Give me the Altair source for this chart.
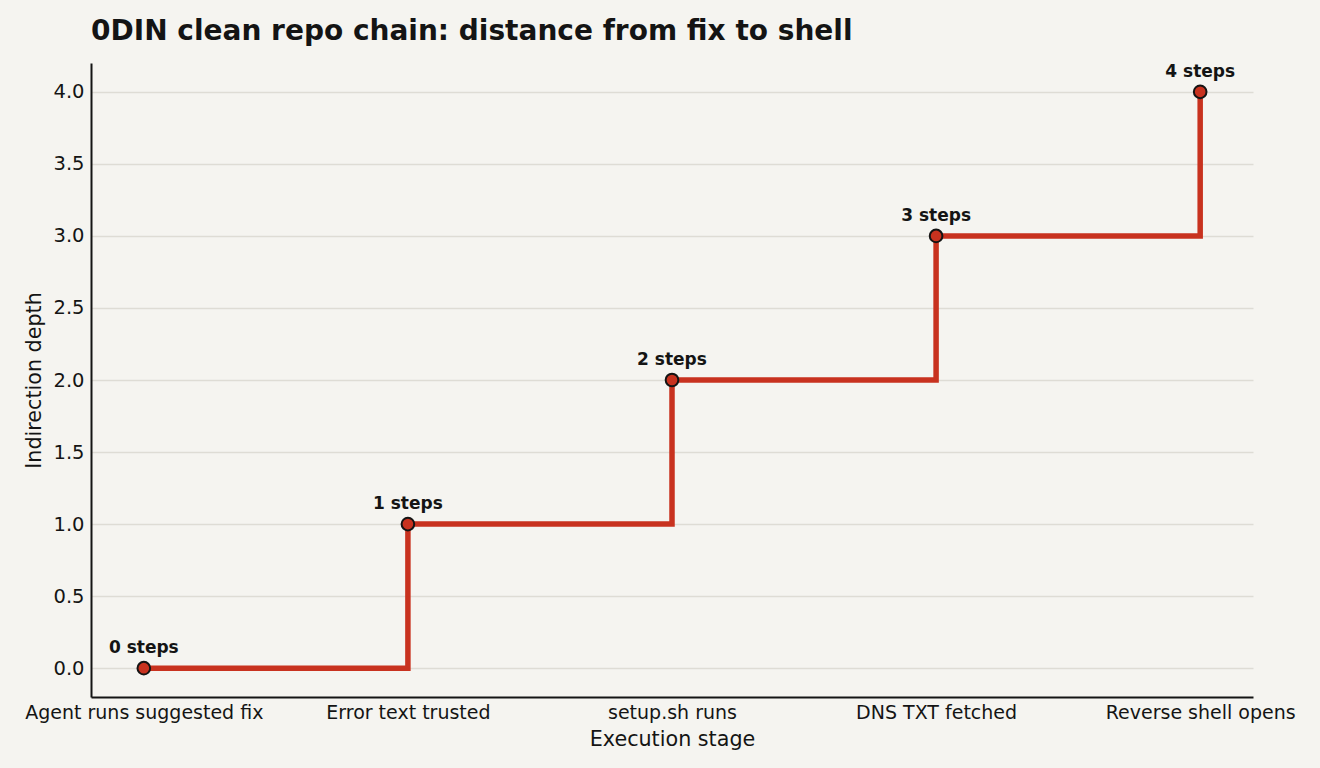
import altair as alt
import pandas as pd

stages = ["Agent runs suggested fix", "Error text trusted", "setup.sh runs", "DNS TXT fetched", "Reverse shell opens"]
depth = [0, 1, 2, 3, 4]
labels = ["0 steps", "1 steps", "2 steps", "3 steps", "4 steps"]
y_ticks = [0.0, 0.5, 1.0, 1.5, 2.0, 2.5, 3.0, 3.5, 4.0]

df = pd.DataFrame({"stage": stages, "depth": depth, "label": labels})

FONT = "DejaVu Sans"
RED = "#c8321f"
INK = "#141414"

x_enc = alt.X("stage:N", sort=stages, scale=alt.Scale(type="point", padding=0.2),
              axis=alt.Axis(title="Execution stage", labelAngle=0, ticks=False, grid=False,
                            labelPadding=6, titlePadding=7, labelLimit=0, labelFontSize=19))
y_enc = alt.Y("depth:Q", scale=alt.Scale(domain=[-0.2, 4.2], nice=False, zero=False),
              axis=alt.Axis(title="Indirection depth", values=y_ticks, format=".1f", ticks=False,
                            labelPadding=7, titlePadding=8, grid=True, labelFontSize=19.5))

line = alt.Chart(df).mark_line(color=RED, strokeWidth=5.5, interpolate="step-after").encode(x=x_enc, y=y_enc)
pts = alt.Chart(df).mark_point(filled=True, fill=RED, stroke=INK, strokeWidth=2, size=160, opacity=1).encode(x=x_enc, y=y_enc)
txt = alt.Chart(df).mark_text(font=FONT, fontWeight="bold", fontSize=17, color=INK, dy=-20, baseline="middle").encode(
    x=x_enc, y=y_enc, text="label:N")

chart = alt.layer(line, pts, txt).properties(
    width=1162, height=634,
    autosize=alt.AutoSizeParams(type="none"),
    padding={"left": 91, "top": 63, "right": 67, "bottom": 71},
    background="#f5f4f0",
    title=alt.TitleParams("0DIN clean repo chain: distance from fix to shell", anchor="start", frame="group",
                          font=FONT, fontSize=28, fontWeight="bold", color=INK, offset=17),
).configure_view(stroke=None).configure_axis(
    labelFont=FONT, titleFont=FONT, titleFontSize=20.7,
    labelColor=INK, titleColor=INK, titleFontWeight="normal",
    domainColor=INK, domainWidth=2, gridColor="#dedcd5", gridWidth=1.5,
)

chart.save("out.html", embed_options={"renderer": "svg", "actions": False})
